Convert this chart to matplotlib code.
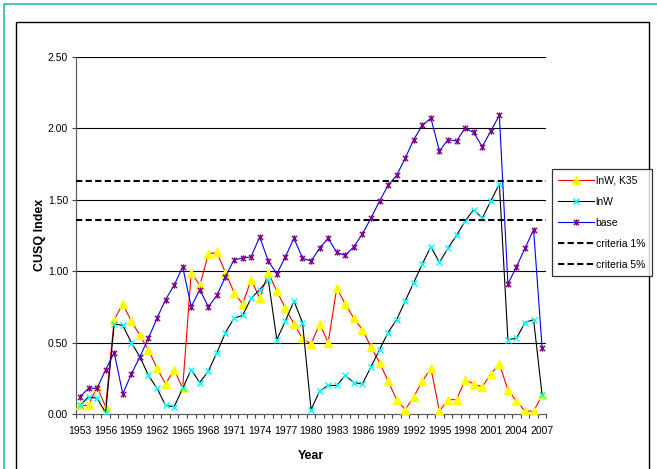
import matplotlib
matplotlib.use('Agg')
import matplotlib.pyplot as plt
from matplotlib.path import Path
from matplotlib.patches import Rectangle

plt.rcParams['font.family'] = ['Liberation Sans', 'DejaVu Sans']

# CUSQ index by year
years = list(range(1953, 2008))
inw_k35 = [0.06, 0.06, 0.19, 0.05, 0.66, 0.77, 0.65, 0.55, 0.45, 0.32,
           0.21, 0.31, 0.18, 0.99, 0.90, 1.12, 1.13, 0.99, 0.85, 0.77,
           0.94, 0.81, 0.99, 0.86, 0.74, 0.63, 0.53, 0.49, 0.63, 0.50,
           0.88, 0.77, 0.67, 0.59, 0.47, 0.36, 0.23, 0.10, 0.03, 0.12,
           0.23, 0.32, 0.02, 0.10, 0.10, 0.24, 0.21, 0.19, 0.28, 0.35,
           0.17, 0.09, 0.02, 0.02, 0.13]
inw = [0.06, 0.12, 0.11, 0.01, 0.63, 0.62, 0.50, 0.40, 0.27, 0.18,
       0.06, 0.05, 0.18, 0.31, 0.22, 0.30, 0.43, 0.57, 0.67, 0.69,
       0.81, 0.87, 0.94, 0.52, 0.65, 0.79, 0.64, 0.03, 0.16, 0.20,
       0.20, 0.27, 0.22, 0.21, 0.33, 0.45, 0.57, 0.66, 0.79, 0.92,
       1.05, 1.17, 1.06, 1.16, 1.25, 1.35, 1.43, 1.37, 1.49, 1.61,
       0.52, 0.53, 0.64, 0.66, 0.13]
base = [0.12, 0.18, 0.18, 0.31, 0.43, 0.14, 0.28, 0.40, 0.53, 0.67,
        0.80, 0.90, 1.03, 0.75, 0.87, 0.75, 0.83, 0.96, 1.08, 1.09,
        1.10, 1.24, 1.07, 0.98, 1.10, 1.23, 1.09, 1.07, 1.16, 1.23,
        1.13, 1.11, 1.17, 1.26, 1.37, 1.49, 1.60, 1.67, 1.79, 1.92,
        2.02, 2.07, 1.84, 1.92, 1.91, 2.00, 1.97, 1.87, 1.98, 2.09,
        0.91, 1.03, 1.16, 1.29, 0.46]
criteria_1 = 1.63
criteria_5 = 1.36
y_ticks = [0.0, 0.5, 1.0, 1.5, 2.0, 2.5]

x = list(range(len(years)))

# asterisk-like marker: an X with a vertical bar
star = Path([(-1, -1), (1, 1), (-1, 1), (1, -1), (0, -1.2), (0, 1.2)],
            [Path.MOVETO, Path.LINETO, Path.MOVETO, Path.LINETO, Path.MOVETO, Path.LINETO])

fig = plt.figure(figsize=(6.57, 4.69), dpi=100)
ax = fig.add_axes([0.1152, 0.1173, 0.7165, 0.7618])

# outer frames
fig.patches.append(Rectangle((3.5 / 657, -0.05), 1.1, 1 - 4.5 / 469 + 0.05, transform=fig.transFigure,
                             fill=False, edgecolor='#3cc4ae', linewidth=1.3, zorder=0))
fig.patches.append(Rectangle((16 / 657, -0.05), (648.5 - 16) / 657, 1 - 22 / 469 + 0.05,
                             transform=fig.transFigure, fill=False, edgecolor='black',
                             linewidth=1.0, zorder=0))

for yv in y_ticks[1:]:
    ax.axhline(yv, color='black', linewidth=0.8, zorder=1)

ax.plot(x, inw_k35, color='#FF0000', linewidth=0.8, marker='^', markersize=6,
        markerfacecolor='#FFFF00', markeredgecolor='#FFFF00', label='lnW, K35', zorder=3)
ax.plot(x, inw, color='black', linewidth=0.8, marker='x', markersize=4.5,
        markeredgecolor='#00FFFF', markeredgewidth=1.0, label='lnW', zorder=3)
ax.plot(x, base, color='#0000FF', linewidth=0.8, marker=star, markersize=4.5,
        markeredgecolor='#800080', markerfacecolor='none', markeredgewidth=1.0,
        label='base', zorder=3)
ax.plot([-0.5, len(years) - 0.5], [criteria_1, criteria_1], color='black', linewidth=1.5,
        dashes=(3, 1.6), label='criteria 1%', zorder=4)
ax.plot([-0.5, len(years) - 0.5], [criteria_5, criteria_5], color='black', linewidth=1.5,
        dashes=(3, 1.6), label='criteria 5%', zorder=4)

ax.set_xlim(-0.5, len(years) - 0.5)
ax.set_ylim(0, 2.5)

ax.set_yticks(y_ticks)
ax.set_yticklabels(['%.2f' % v for v in y_ticks])
ax.set_xticks(x[::3])
ax.set_xticklabels([str(y) for y in years[::3]])
ax.set_xticks([i - 0.5 for i in range(len(years) + 1)], minor=True)
ax.tick_params(axis='x', which='major', length=0, pad=9, labelsize=7.5)
ax.tick_params(axis='x', which='minor', length=3, width=0.8, direction='out', color='#404040')
ax.tick_params(axis='y', length=3, width=0.8, direction='out', pad=2.5, labelsize=7.5,
               color='#404040')

for side in ['top', 'right']:
    ax.spines[side].set_visible(False)
for side in ['left', 'bottom']:
    ax.spines[side].set_color('#606060')
    ax.spines[side].set_linewidth(0.9)

ax.set_xlabel('Year', fontsize=9, fontweight='bold', labelpad=10)
ax.set_ylabel('CUSQ Index', fontsize=9, fontweight='bold', labelpad=1)

leg = fig.legend(loc='upper left', bbox_to_anchor=(552 / 657, 1 - 169.5 / 469),
                 fontsize=7.5, frameon=True, fancybox=False, edgecolor='black',
                 handlelength=3.4, handletextpad=0.2, labelspacing=1.05,
                 borderpad=0.6, borderaxespad=0)
leg.get_frame().set_linewidth(0.9)

fig.savefig('out.png', dpi=100)
